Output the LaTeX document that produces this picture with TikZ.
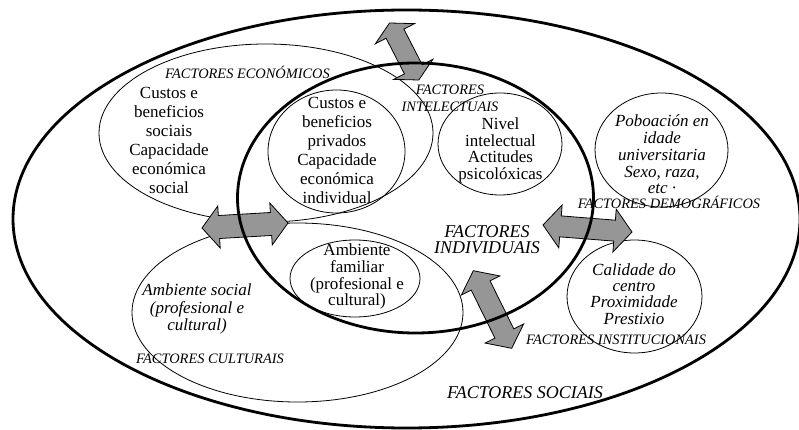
\documentclass[tikz,border=0pt]{standalone}
\usepackage{fontspec}
\setmainfont{Liberation Serif}
\usetikzlibrary{shapes.geometric,calc}
\definecolor{arrgray}{RGB}{150,150,150}
\newcommand\dblarrow[5]{% #1 tip A, #2 tip B, #3 head length, #4 head half width, #5 shaft half width
  \filldraw[arrowsty] (#1)
  -- ($(#1)!#3!(#2)!#4!90:(#2)$)
  -- ($(#1)!#3!(#2)!#5!90:(#2)$)
  -- ($(#2)!#3!(#1)!#5!-90:(#1)$)
  -- ($(#2)!#3!(#1)!#4!-90:(#1)$)
  -- (#2)
  -- ($(#2)!#3!(#1)!#4!90:(#1)$)
  -- ($(#2)!#3!(#1)!#5!90:(#1)$)
  -- ($(#1)!#3!(#2)!#5!-90:(#2)$)
  -- ($(#1)!#3!(#2)!#4!-90:(#2)$)
  -- cycle;}
\begin{document}
\begin{tikzpicture}[x=1pt,y=-1pt,
  thinell/.style={ellipse,draw=black,line width=0.8pt,inner sep=0pt,outer sep=0pt},
  thickell/.style={ellipse,draw=black,line width=2.8pt,inner sep=0pt,outer sep=0pt},
  arrowsty/.style={fill=arrgray,draw=black,line width=0.8pt,line join=miter},
  bodytxt/.style={align=center,inner sep=0pt,font=\fontsize{17}{19}\selectfont},
  bodyit/.style={align=center,inner sep=0pt,font=\fontsize{17}{16.7}\selectfont\itshape},
  lbl/.style={align=center,inner sep=0pt,font=\fontsize{14.4}{17}\selectfont\itshape},
  biglbl/.style={align=center,inner sep=0pt,font=\fontsize{18}{16.3}\selectfont\itshape}]
\useasboundingbox (0,0) rectangle (799,430);
% thin ellipses
\node[thinell,minimum width=334pt,minimum height=178pt] (econ) at (266,133) {};
\node[thinell,minimum width=137pt,minimum height=123pt] (priv) at (336.5,151.5) {};
\node[thinell,minimum width=124pt,minimum height=102pt] (intel) at (500,144) {};
\node[thinell,minimum width=133pt,minimum height=114pt] (demo) at (661.5,150) {};
\node[thinell,minimum width=331pt,minimum height=179pt] (cult) at (297.5,312.5) {};
\node[thinell,minimum width=130pt,minimum height=77pt] (fam) at (355,278.5) {};
\node[thinell,minimum width=135pt,minimum height=113pt] (inst) at (634.5,296.5) {};
% arrow tips
\coordinate (ta1) at (389.5,23);  \coordinate (ta2) at (418.8,80);
\coordinate (la1) at (202,228);   \coordinate (la2) at (288,223);
\coordinate (ra1) at (543,225);   \coordinate (ra2) at (632,232);
\coordinate (ba1) at (473.3,270.7); \coordinate (ba2) at (511.7,348.3);
\dblarrow{ta1}{ta2}{12pt}{22pt}{10pt}
\dblarrow{la1}{la2}{17pt}{21pt}{11.5pt}
\dblarrow{ra1}{ra2}{17.5pt}{21.5pt}{10.5pt}
\dblarrow{ba1}{ba2}{16.5pt}{21.5pt}{10.5pt}
% thick ellipses
\node[thickell,minimum width=787pt,minimum height=418pt] (soc) at (406.5,219) {};
\node[thickell,minimum width=356pt,minimum height=270pt] (indiv) at (415.5,198) {};
% texts
\node[bodytxt] (econt) at (169,140) {Custos e\\beneficios\\sociais\\Capacidade\\económica\\social};
\node[bodytxt] (privt) at (337,150) {Custos e\\beneficios\\privados\\Capacidade\\económica\\individual};
\node[bodytxt,font=\fontsize{17}{16.5}\selectfont] (intelt) at (500.5,150.5) {Nivel\\intelectual\\Actitudes\\psicolóxicas};
\node[bodyit] (demot) at (662,154.5) {Poboación en\\idade\\universitaria\\Sexo, raza,\\etc ·};
\node[bodytxt,font=\fontsize{17}{16.7}\selectfont] (famt) at (357,276.7) {Ambiente\\familiar\\(profesional e\\cultural)};
\node[bodyit,font=\fontsize{17}{17.5}\selectfont\itshape] (cultt) at (197,309.3) {Ambiente social\\(profesional e\\cultural)};
\node[bodyit,font=\fontsize{17}{16.3}\selectfont\itshape] (instt) at (634,294) {Calidade do\\centro\\Proximidade\\Prestixio};
\node[lbl] (econl) at (247.5,72) {FACTORES ECONÓMICOS};
\node[lbl] (intell) at (450,98) {FACTORES\\INTELECTUAIS};
\node[lbl] (demol) at (669,202) {FACTORES DEMOGRÁFICOS};
\node[lbl] (cultl) at (210,359) {FACTORES CULTURAIS};
\node[lbl] (instl) at (616,340) {FACTORES INSTITUCIONAIS};
\node[biglbl] (indivl) at (487,240) {FACTORES\\INDIVIDUAIS};
\node[biglbl] (socl) at (525,393) {FACTORES SOCIAIS};
\end{tikzpicture}
\end{document}
